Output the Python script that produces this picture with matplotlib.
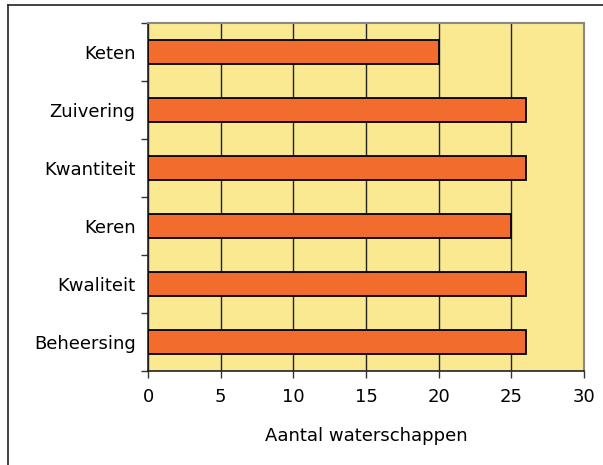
import matplotlib
matplotlib.use('Agg')
import matplotlib.pyplot as plt
from matplotlib.lines import Line2D

# categories from bottom to top
categories = ['Beheersing', 'Kwaliteit', 'Keren', 'Kwantiteit', 'Zuivering', 'Keten']
values = [26, 26, 25, 26, 26, 20]

BAR_COLOR = '#F26D2D'
BG_COLOR = '#FAE991'
FONT_SIZE = 13

fig = plt.figure(figsize=(6.03, 4.65), dpi=100)
ax = fig.add_axes([148 / 603, 1 - 371 / 465, 436 / 603, 348 / 465])
ax.set_facecolor(BG_COLOR)

ypos = list(range(len(categories)))
ax.barh(ypos, values, height=0.42, color=BAR_COLOR, edgecolor='black',
        linewidth=1.3, zorder=3)

ax.set_xlim(0, 30)
ax.set_ylim(-0.5, len(categories) - 0.5)
ax.set_xticks(range(0, 31, 5))
ax.xaxis.grid(True, color='#222222', linewidth=1, zorder=1)

# category labels centred, tick marks between categories
ax.set_yticks(ypos)
ax.set_yticklabels(categories, fontsize=FONT_SIZE)
ax.tick_params(axis='y', which='major', length=0, pad=9)
ax.set_yticks([y - 0.5 for y in range(len(categories) + 1)], minor=True)
ax.tick_params(axis='y', which='minor', length=5, width=1, color='#333333')
ax.tick_params(axis='x', length=5, width=1, color='#333333', labelsize=FONT_SIZE, pad=7)

for side in ['top', 'right']:
    ax.spines[side].set_color('#888888')
    ax.spines[side].set_linewidth(1.5)
for side in ['left', 'bottom']:
    ax.spines[side].set_color('#222222')
    ax.spines[side].set_linewidth(1.2)

ax.set_xlabel('Aantal waterschappen', fontsize=FONT_SIZE, labelpad=15)

# outer frame
fig.add_artist(Line2D([7.5 / 603, 7.5 / 603], [0, 1 - 5.5 / 465],
                      transform=fig.transFigure, color='#222222', linewidth=1.2))
fig.add_artist(Line2D([7.5 / 603, 1], [1 - 5.5 / 465, 1 - 5.5 / 465],
                      transform=fig.transFigure, color='#222222', linewidth=1.2))

fig.savefig('out.png', dpi=100)
